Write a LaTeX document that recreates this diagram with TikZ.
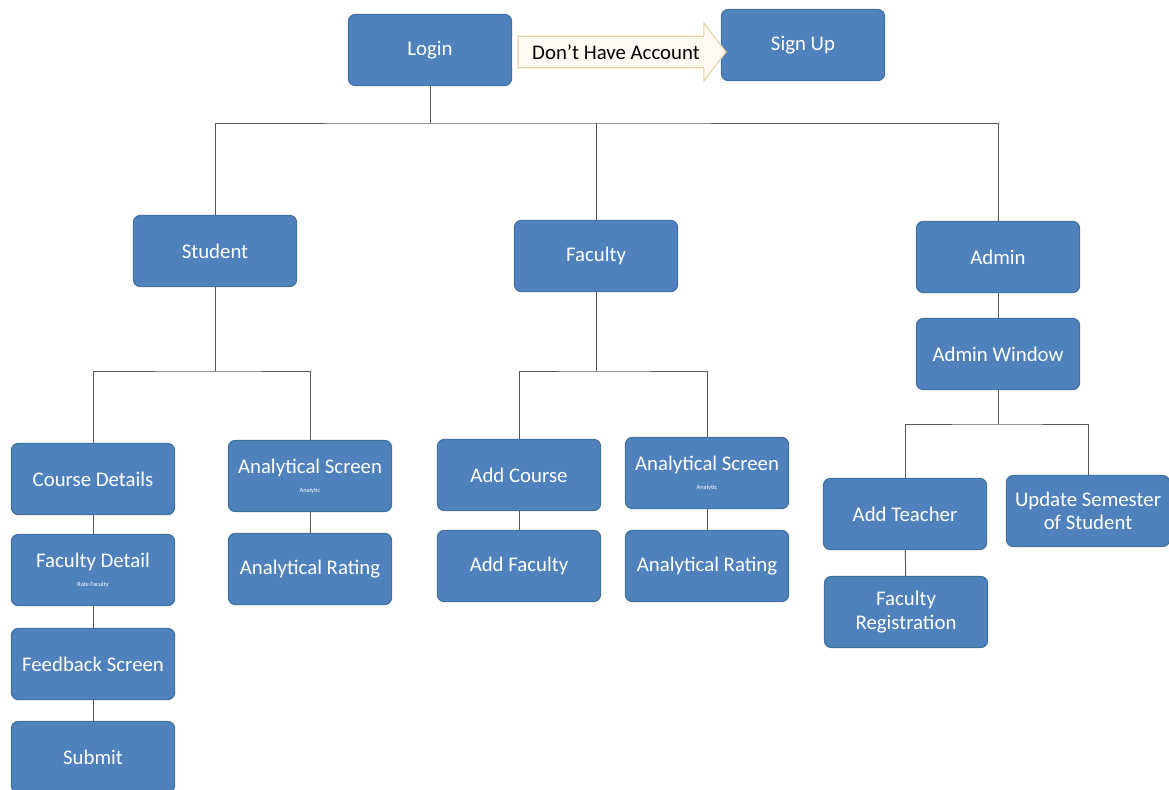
\documentclass[tikz,border=0pt]{standalone}
\usepackage{fontspec}
\setmainfont{Carlito}
\usetikzlibrary{shapes.arrows}

\definecolor{boxblue}{HTML}{4F81BD}
\definecolor{boxedge}{HTML}{41719C}
\definecolor{linegray}{HTML}{595959}
\definecolor{arrowfill}{HTML}{FFFBF2}
\definecolor{arrowedge}{HTML}{EBCFA0}

\newcommand{\subnotefont}{\fontsize{4.5}{5}\selectfont}

\tikzset{
	menubox/.style={rectangle, rounded corners=5pt, fill=boxblue, draw=boxedge, line width=0.8pt,
		text=white, align=center, minimum width=4.08cm, minimum height=1.78cm, inner sep=1pt},
	link/.style={draw=linegray, line width=0.7pt}
}

\begin{document}
\begin{tikzpicture}[x=0.025cm, y=-0.025cm, font=\fontsize{14.8}{16.5}\selectfont]
		\useasboundingbox (0,0) rectangle (1169,789);

		\node[menubox] (login) at (430, 50) {Login};
		\node[menubox] (signup) at (803, 45) {Sign Up};
		\node[single arrow, draw=arrowedge, fill=arrowfill, line width=0.8pt, text=black,
			minimum height=5.2cm, single arrow head extend=0.33cm, single arrow tip angle=105,
			inner xsep=2pt, inner ysep=5.5pt] (noacct) at (616, 52) {Don’t Have Account};

		\node[menubox] (student) at (215, 251) {Student};
		\node[menubox] (faculty) at (596, 256) {Faculty};
		\node[menubox] (admin) at (998, 257) {Admin};
		\node[menubox] (adminwin) at (998, 354) {Admin Window};

		\node[menubox] (course) at (93, 479) {Course Details};
		\node[menubox] (facdetail) at (93, 570) {Faculty Detail\\[-3pt]{\subnotefont Rate Faculty}};
		\node[menubox] (feedback) at (93, 664) {Feedback Screen};
		\node[menubox] (submit) at (93, 757) {Submit};
		\node[menubox] (sscreen) at (310, 476) {Analytical Screen\\[-3pt]{\subnotefont Analytic}};
		\node[menubox] (srating) at (310, 569) {Analytical Rating};

		\node[menubox] (addcourse) at (519, 475) {Add Course};
		\node[menubox] (addfaculty) at (519, 566) {Add Faculty};
		\node[menubox] (fscreen) at (707, 473) {Analytical Screen\\[-3pt]{\subnotefont Analytic}};
		\node[menubox] (frating) at (707, 566) {Analytical Rating};

		\node[menubox] (addteacher) at (905, 514) {Add Teacher};
		\node[menubox] (facreg) at (906, 612) {Faculty\\Registration};
		\node[menubox] (updsem) at (1088, 511) {Update Semester\\of Student};

		% tree connectors
		\coordinate (topbus) at (430, 123);
		\coordinate (stubus) at (215, 371);
		\coordinate (facbus) at (596, 371);
		\coordinate (admbus) at (998, 424);

		\draw[link] (login) -- (topbus);
		\draw[link] (student) |- (topbus) -| (admin);
		\draw[link] (faculty) -- (faculty |- topbus);

		\draw[link] (student) -- (stubus);
		\draw[link] (course) |- (stubus) -| (sscreen);
		\draw[link] (course) -- (facdetail);
		\draw[link] (facdetail) -- (feedback);
		\draw[link] (feedback) -- (submit);
		\draw[link] (sscreen) -- (srating);

		\draw[link] (faculty) -- (facbus);
		\draw[link] (addcourse) |- (facbus) -| (fscreen);
		\draw[link] (addcourse) -- (addfaculty);
		\draw[link] (fscreen) -- (frating);

		\draw[link] (admin) -- (adminwin);
		\draw[link] (adminwin) -- (admbus);
		\draw[link] (addteacher) |- (admbus) -| (updsem);
		\draw[link] (addteacher) -- (facreg);
	\end{tikzpicture}
\end{document}
